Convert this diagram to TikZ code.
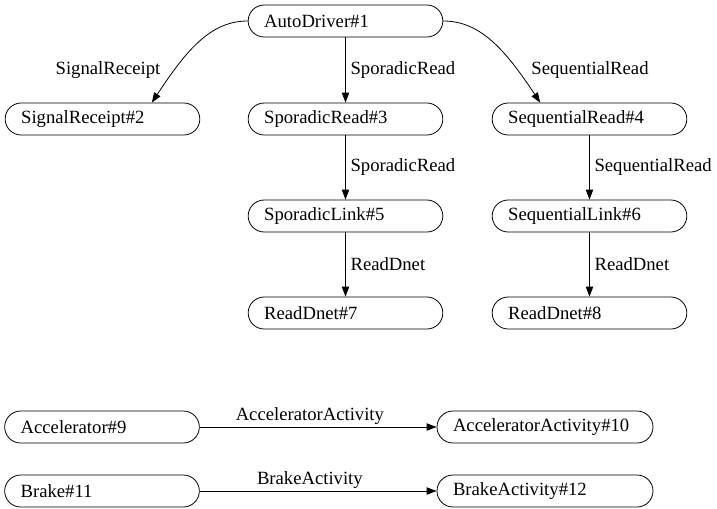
\documentclass[tikz,border=0pt]{standalone}
\usepackage{fontspec}
\setmainfont{Liberation Serif}
\usetikzlibrary{arrows.meta}

\begin{document}
\begin{tikzpicture}[x=0.75pt, y=-0.75pt, line width=0.6pt,
    every node/.style={font=\fontsize{14}{16}\selectfont},
    state/.style={draw, rounded corners=12pt, minimum height=24pt,
      text width=#1, align=left, inner xsep=12pt, inner ysep=0pt},
    state/.default=122pt,
    edgelbl/.style={inner sep=0.5pt},
    >={Triangle[length=7.5pt,width=5.5pt]}]
  \useasboundingbox (0,0) rectangle (717,508);

  % Draw the driver tree
  \node[state] (ad1) at (345.5,21) {AutoDriver\#1};
  \node[state] (sr2) at (102.5,119) {SignalReceipt\#2};
  \node[state] (sp3) at (345.5,119) {SporadicRead\#3};
  \node[state] (sq4) at (589.5,119) {SequentialRead\#4};
  \node[state] (sl5) at (345.5,216) {SporadicLink\#5};
  \node[state] (ql6) at (589.5,216) {SequentialLink\#6};
  \node[state] (rd7) at (345.5,313) {ReadDnet\#7};
  \node[state] (rd8) at (589.5,313) {ReadDnet\#8};

  % Straight links with their labels
  \foreach \a/\b/\t in {ad1/sp3/SporadicRead, sp3/sl5/SporadicRead,
      sl5/rd7/ReadDnet, sq4/ql6/SequentialRead, ql6/rd8/ReadDnet}
    \draw[->] (\a) -- (\b) node[midway, right=3pt, edgelbl] {\t};

  % Curved links to the side branches
  \draw[->] (ad1.west) .. controls +(-37,0) and +(35,-53) .. ([xshift=37pt]sr2.north);
  \draw[->] (ad1.east) .. controls +(37,0) and +(-35,-53) .. ([xshift=-37pt]sq4.north);
  \node[edgelbl] (lsr) at (108,70) {SignalReceipt};
  \node[edgelbl] (lsq) at (590,70) {SequentialRead};

  % Draw the pedal pairs
  \node[state] (ac9) at (102,427) {Accelerator\#9};
  \node[state=138pt] (aa10) at (545,427) {AcceleratorActivity\#10};
  \node[state] (br11) at (102,491) {Brake\#11};
  \node[state=138pt] (ba12) at (545,491) {BrakeActivity\#12};

  \draw[->] (ac9) -- (aa10) node[pos=0.465, above=1pt, edgelbl] {AcceleratorActivity};
  \draw[->] (br11) -- (ba12) node[pos=0.465, above=1pt, edgelbl] {BrakeActivity};
\end{tikzpicture}
\end{document}
